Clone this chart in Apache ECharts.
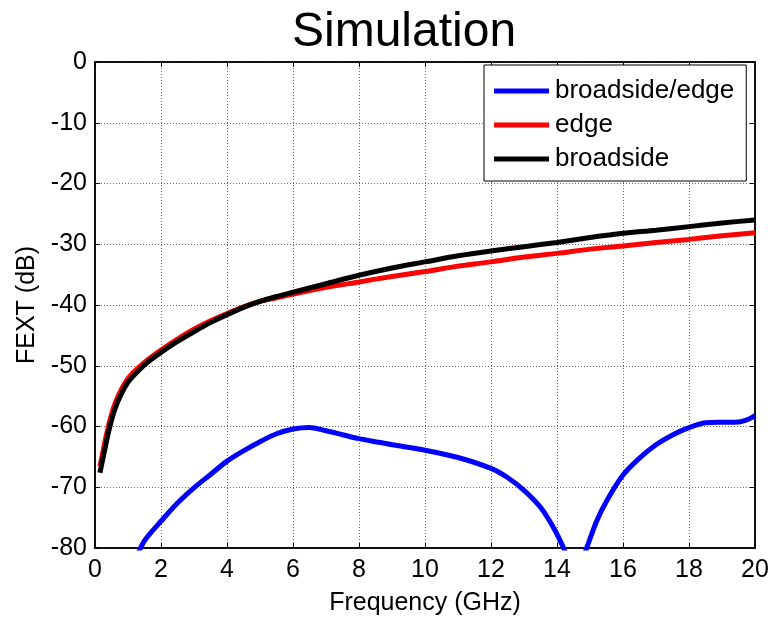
<!DOCTYPE html>
<html>
<head>
<meta charset="utf-8">
<script src="https://cdn.jsdelivr.net/npm/echarts@6/dist/echarts.min.js"></script>
<style>
html,body{margin:0;padding:0;background:#fff;}
#c{width:773px;height:621px;}
</style>
</head>
<body>
<div id="c"></div>
<script>
// ---- data ----
var freqMain = [0.15,0.25,0.35,0.45,0.6,0.8,1,1.3,1.6,2,2.5,3,3.5,4,4.5,5,5.5,6,7,8,9,10,11,12,13,14,15,16,17,18,19,20];
var broadside = [-67.6,-65.0,-62.4,-60.0,-57.2,-54.6,-52.7,-50.9,-49.4,-47.8,-46.0,-44.4,-42.9,-41.6,-40.4,-39.4,-38.6,-37.9,-36.5,-35.1,-33.9,-32.9,-31.9,-31.1,-30.4,-29.7,-28.9,-28.2,-27.7,-27.1,-26.5,-26.0];
var edge = [-66.6,-63.9,-61.3,-59.0,-56.3,-53.9,-52.1,-50.4,-49.0,-47.4,-45.6,-44.0,-42.6,-41.4,-40.3,-39.4,-38.8,-38.2,-37.1,-36.2,-35.3,-34.5,-33.6,-32.9,-32.1,-31.5,-30.8,-30.3,-29.7,-29.2,-28.6,-28.1];
var freqBE = [1.3,1.5,2,2.5,3,3.5,4,4.5,5,5.5,6,6.5,7,7.5,8,8.6,9,10,11,12,12.5,13,13.5,13.9,14.2,14.3,14.55,14.8,14.9,15.2,15.5,16,16.5,17,17.5,18,18.5,19,19.5,19.8,20];
var broadsideEdge = [-81,-78.8,-75.6,-72.6,-70.1,-67.9,-65.7,-64.0,-62.5,-61.2,-60.4,-60.15,-60.7,-61.35,-62.0,-62.6,-63.0,-63.9,-65.1,-66.9,-68.4,-70.5,-73.3,-76.7,-80.0,-81.5,'-',-81.5,-80.0,-75.6,-72.3,-68.0,-65.2,-63.0,-61.4,-60.2,-59.4,-59.3,-59.25,-58.8,-58.2];
var xTicks = {min:0, max:20, interval:2};
var yTicks = {min:-80, max:0, interval:10};
var titleText = 'Simulation';
var xName = 'Frequency (GHz)';
var yName = 'FEXT (dB)';
var seriesNames = ['broadside/edge','edge','broadside'];

function pairs(xs, ys){ return xs.map(function(x,i){ return [x, ys[i]]; }); }

var FONT = 'Liberation Sans, Arial, Helvetica, sans-serif';
var chart = echarts.init(document.getElementById('c'), null, {renderer:'canvas'});
var axisCommonX = {
  type:'value', min:xTicks.min, max:xTicks.max, interval:xTicks.interval
};
var axisCommonY = {
  type:'value', min:yTicks.min, max:yTicks.max, interval:yTicks.interval
};
chart.setOption({
  animation:false,
  backgroundColor:'#fff',
  title:{
    text:titleText, left:287, top:4,
    textStyle:{fontFamily:FONT, fontSize:48, fontWeight:'normal', color:'#000'}
  },
  grid:{left:95, right:18, top:62, bottom:70, show:true, borderColor:'#000', borderWidth:1.5, backgroundColor:'#fff'},
  legend:{
    orient:'vertical', left:484, top:65,
    data:seriesNames.map(function(n){return {name:n, icon:'rect'};}),
    itemWidth:55, itemHeight:5, itemGap:8,
    padding:[13,12,9,10],
    backgroundColor:'#fff', borderColor:'#000', borderWidth:1,
    textStyle:{fontFamily:FONT, fontSize:26, color:'#000', padding:[0,0,0,1]}
  },
  xAxis:[
    Object.assign({}, axisCommonX, {
      position:'bottom',
      name:xName, nameLocation:'middle', nameGap:43,
      nameTextStyle:{fontFamily:FONT, fontSize:25, color:'#000'},
      axisLine:{show:true, onZero:false, lineStyle:{color:'#000', width:1.5}},
      axisTick:{show:true, inside:true, length:5, lineStyle:{color:'#000'}},
      axisLabel:{fontFamily:FONT, fontSize:25, color:'#000', margin:10},
      splitLine:{show:true, lineStyle:{color:'#666', type:[1,2], width:1}}
    }),
    Object.assign({}, axisCommonX, {
      position:'top',
      axisLine:{show:true, onZero:false, lineStyle:{color:'#000', width:1.5}},
      axisTick:{show:true, inside:true, length:5, lineStyle:{color:'#000'}},
      axisLabel:{show:false}, splitLine:{show:false}
    })
  ],
  yAxis:[
    Object.assign({}, axisCommonY, {
      position:'left',
      name:yName, nameLocation:'middle', nameGap:55,
      nameTextStyle:{fontFamily:FONT, fontSize:25, color:'#000'},
      axisLine:{show:true, onZero:false, lineStyle:{color:'#000', width:1.5}},
      axisTick:{show:true, inside:true, length:5, lineStyle:{color:'#000'}},
      axisLabel:{fontFamily:FONT, fontSize:25, color:'#000', margin:8},
      splitLine:{show:true, lineStyle:{color:'#666', type:[1,2], width:1}}
    }),
    Object.assign({}, axisCommonY, {
      position:'right',
      axisLine:{show:true, onZero:false, lineStyle:{color:'#000', width:1.5}},
      axisTick:{show:true, inside:true, length:5, lineStyle:{color:'#000'}},
      axisLabel:{show:false}, splitLine:{show:false}
    })
  ],
  series:[
    {name:seriesNames[0], type:'line', data:pairs(freqBE, broadsideEdge), showSymbol:false, smooth:0.3, clip:true, connectNulls:false,
     itemStyle:{color:'#0000ff'}, lineStyle:{color:'#0000ff', width:5}},
    {name:seriesNames[1], type:'line', data:pairs(freqMain, edge), showSymbol:false, smooth:0.3, clip:true,
     itemStyle:{color:'#ff0000'}, lineStyle:{color:'#ff0000', width:5}},
    {name:seriesNames[2], type:'line', data:pairs(freqMain, broadside), showSymbol:false, smooth:0.3, clip:true,
     itemStyle:{color:'#000000'}, lineStyle:{color:'#000000', width:5}}
  ]
});
</script>
</body>
</html>
